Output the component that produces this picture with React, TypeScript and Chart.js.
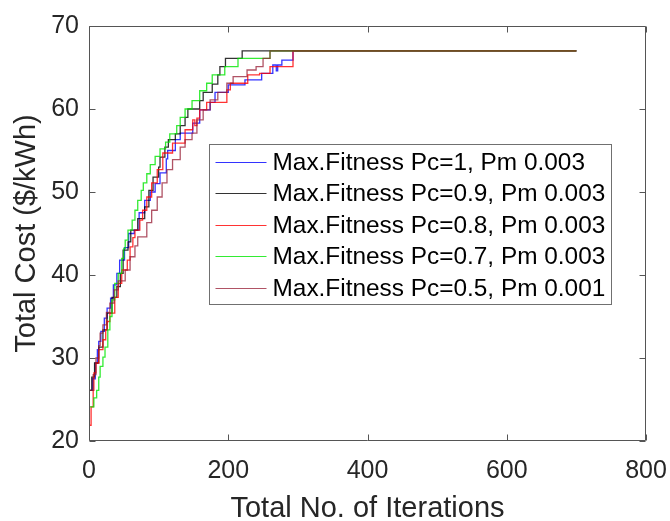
import React, { useEffect, useRef } from 'react';
import { Chart, registerables } from 'chart.js';

Chart.register(...registerables);

// ---------------- DATA ----------------
const seriesLabels = [
  'Max.Fitness Pc=1, Pm 0.003',
  'Max.Fitness Pc=0.9, Pm 0.003',
  'Max.Fitness Pc=0.8, Pm 0.003',
  'Max.Fitness Pc=0.7, Pm 0.003',
  'Max.Fitness Pc=0.5, Pm 0.001',
];

const xTickValues = [0, 200, 400, 600, 800];
const yTickValues = [20, 30, 40, 50, 60, 70];

const pc10Iter = [0, 5, 9, 12, 14, 17, 22, 26, 31, 35, 40, 44, 51, 57, 65, 72, 80, 88, 95, 102, 111, 113, 124, 131, 149, 159, 174, 181, 200, 224, 248, 264, 269, 271, 277, 293, 700];
const pc10Cost = [26.1, 27.5, 29.4, 31, 32, 33.2, 34.8, 36, 37.2, 38.8, 40.2, 41.8, 43.3, 45, 45.4, 47.5, 49, 50, 51, 52.3, 54, 55, 56.3, 57.1, 58.3, 59.9, 60.8, 62, 62.9, 63.5, 64.3, 65.3, 64.6, 65.3, 65.9, 67, 67];

const pc09Iter = [0, 4, 8, 14, 20, 26, 33, 40, 45, 49, 56, 60, 70, 80, 86, 92, 100, 102, 109, 114, 124, 131, 138, 142, 159, 164, 177, 185, 188, 196, 220, 700];
const pc09Cost = [26.1, 27.7, 29.4, 31.3, 33.4, 35.4, 37.3, 38.6, 40.2, 43, 44, 45.4, 46.8, 48.2, 50.2, 51.8, 53, 54.2, 55.4, 56.3, 57, 58, 59, 60, 61, 62, 63, 64.1, 65.1, 66.1, 67, 67];

const pc08Iter = [0, 3, 6, 7, 10, 14, 20, 24, 26, 30, 37, 42, 47, 55, 59, 63, 66, 73, 77, 83, 90, 98, 106, 120, 138, 149, 152, 155, 159, 169, 198, 203, 228, 245, 260, 293, 700];
const pc08Cost = [21.9, 24.1, 26.1, 28.2, 29.4, 31, 32.2, 33.4, 34.4, 35.4, 37.3, 39, 40.6, 41.8, 43.4, 44.5, 45.4, 46.6, 47.8, 49.4, 51.1, 52.7, 54.7, 55.9, 57.5, 58.7, 58, 58.9, 59.9, 60.8, 62.3, 63.1, 64.1, 64.3, 65.1, 67, 67];

const pc07Iter = [0, 7, 11, 14, 16, 20, 23, 27, 30, 33, 37, 42, 47, 50, 52, 56, 62, 66, 70, 75, 78, 83, 88, 95, 102, 110, 116, 126, 131, 138, 148, 159, 169, 177, 195, 214, 260, 700];
const pc07Cost = [24.1, 25.2, 26.1, 27.7, 29, 30.1, 31.3, 33.4, 35, 37, 39, 40.2, 42, 43.2, 44.2, 45.4, 46.6, 47.8, 49, 50.2, 51.1, 52.2, 53.3, 54.3, 55.2, 56, 57, 58, 59, 60, 61, 62.2, 63.1, 64.1, 65.1, 66.1, 67, 67];

const pc05Iter = [0, 6, 10, 14, 16, 20, 25, 30, 36, 42, 52, 59, 66, 70, 83, 90, 98, 105, 112, 120, 131, 138, 148, 155, 164, 174, 185, 198, 207, 227, 240, 250, 260, 700];
const pc05Cost = [26.1, 28, 30, 31.5, 33, 34, 35.5, 36.6, 38.2, 39.3, 40.6, 42.2, 43.5, 44.6, 46.3, 47.8, 49.4, 51.1, 52.7, 53.9, 55.4, 56.3, 57.1, 58.7, 59.9, 61.1, 62, 63.1, 63.9, 64.7, 65.1, 66.1, 67, 67];

const seriesColors = [
  'rgba(0,0,255,0.8)',
  'rgba(0,0,0,0.8)',
  'rgba(255,0,0,0.8)',
  'rgba(0,230,0,0.8)',
  'rgba(150,25,50,0.75)',
];

const xTitle = 'Total No. of Iterations';
const yTitle = 'Total Cost ($/kWh)';

// ---------------- STYLE ----------------
const FONT = '"Liberation Sans", Arial, Helvetica, sans-serif';
const AXIS_COLOR = '#555555';
const TEXT_COLOR = '#262626';

const toPoints = (xs: number[], ys: number[]) => xs.map((x, i) => ({ x, y: ys[i] }));

const framePlugin = {
  id: 'matlabFrame',
  afterDraw(chart: any) {
    const { ctx, chartArea: a, scales } = chart;
    const xs = scales.x;
    const ys = scales.y;
    const L = Math.round(a.left) + 0.5;
    const R = Math.round(a.right) - 0.5;
    const T = Math.round(a.top) + 0.5;
    const B = Math.round(a.bottom) - 0.5;
    const tl = 6;
    ctx.save();
    ctx.strokeStyle = AXIS_COLOR;
    ctx.lineWidth = 1;
    ctx.beginPath();
    ctx.rect(L, T, R - L, B - T);
    xTickValues.forEach((v) => {
      const p = Math.round(xs.getPixelForValue(v)) + 0.5;
      ctx.moveTo(p, B);
      ctx.lineTo(p, B - tl);
      ctx.moveTo(p, T);
      ctx.lineTo(p, T + tl);
    });
    yTickValues.forEach((v) => {
      const p = Math.round(ys.getPixelForValue(v)) + 0.5;
      ctx.moveTo(L, p);
      ctx.lineTo(L + tl, p);
      ctx.moveTo(R, p);
      ctx.lineTo(R - tl, p);
    });
    ctx.stroke();

    // legend box
    const lx = Math.round(a.left + 120) + 0.5;
    const ly = Math.round(a.top + 118) + 0.5;
    const lw = 402;
    const lh = 160;
    ctx.fillStyle = '#ffffff';
    ctx.fillRect(lx, ly, lw, lh);
    ctx.strokeStyle = '#707070';
    ctx.strokeRect(lx, ly, lw, lh);
    ctx.font = `24.4px ${FONT}`;
    ctx.textBaseline = 'middle';
    ctx.textAlign = 'left';
    chart.data.datasets.forEach((ds: any, i: number) => {
      const yy = Math.round(ly + 17 + i * 31.5) + 0.5;
      ctx.strokeStyle = ds.borderColor;
      ctx.lineWidth = 1.2;
      ctx.beginPath();
      ctx.moveTo(lx + 6, yy);
      ctx.lineTo(lx + 57, yy);
      ctx.stroke();
      ctx.fillStyle = '#000000';
      ctx.fillText(ds.label, lx + 63, yy + 1);
    });
    ctx.restore();
  },
};

export default function App() {
  const ref = useRef<HTMLCanvasElement | null>(null);

  useEffect(() => {
    document.body.style.margin = '0';
    const canvas = ref.current;
    if (!canvas) return;
    const seriesIters = [pc10Iter, pc09Iter, pc08Iter, pc07Iter, pc05Iter];
    const seriesCosts = [pc10Cost, pc09Cost, pc08Cost, pc07Cost, pc05Cost];
    const datasets = seriesLabels.map((label, i) => ({
      label,
      data: toPoints(seriesIters[i], seriesCosts[i]),
      borderColor: seriesColors[i],
      backgroundColor: seriesColors[i],
      borderWidth: 1.3,
      pointRadius: 0,
      fill: false,
      stepped: 'before' as const,
      order: seriesLabels.length - i,
    }));

    const chart = new Chart(canvas, {
      type: 'line',
      data: { datasets },
      plugins: [framePlugin],
      options: {
        animation: false,
        responsive: false,
        maintainAspectRatio: false,
        devicePixelRatio: 1,
        layout: { padding: { left: 0, right: 24, top: 26, bottom: 0 } },
        plugins: {
          legend: { display: false },
          tooltip: { enabled: false },
        },
        scales: {
          x: {
            type: 'linear',
            min: 0,
            max: 800,
            afterFit: (s: any) => {
              s.height = 80;
              s.paddingLeft = 0;
              s.paddingRight = 0;
            },
            afterBuildTicks: (s: any) => {
              s.ticks = xTickValues.map((v) => ({ value: v }));
            },
            grid: { display: false, drawTicks: false },
            border: { display: false },
            ticks: {
              padding: 15,
              color: TEXT_COLOR,
              font: { family: FONT, size: 25 },
              maxRotation: 0,
            },
            title: {
              display: true,
              text: xTitle,
              color: TEXT_COLOR,
              font: { family: FONT, size: 29, lineHeight: 0.86 },
              padding: { top: 0, bottom: 0 },
            },
          },
          y: {
            type: 'linear',
            min: 20,
            max: 70,
            afterFit: (s: any) => {
              s.width = 89;
              s.paddingTop = 0;
              s.paddingBottom = 0;
            },
            afterBuildTicks: (s: any) => {
              s.ticks = yTickValues.map((v) => ({ value: v }));
            },
            grid: { display: false, drawTicks: false },
            border: { display: false },
            ticks: {
              padding: 10,
              color: TEXT_COLOR,
              font: { family: FONT, size: 25 },
            },
            title: {
              display: true,
              text: yTitle,
              color: TEXT_COLOR,
              font: { family: FONT, size: 29, lineHeight: 1 },
              padding: { top: 12, bottom: 0 },
            },
          },
        },
      },
    });
    return () => chart.destroy();
  }, []);

  return (
    <div style={{ position: 'fixed', left: 0, top: 0, width: 670, height: 521, background: '#ffffff' }}>
      <canvas ref={ref} width={670} height={521} style={{ display: 'block', width: 670, height: 521 }} />
    </div>
  );
}
